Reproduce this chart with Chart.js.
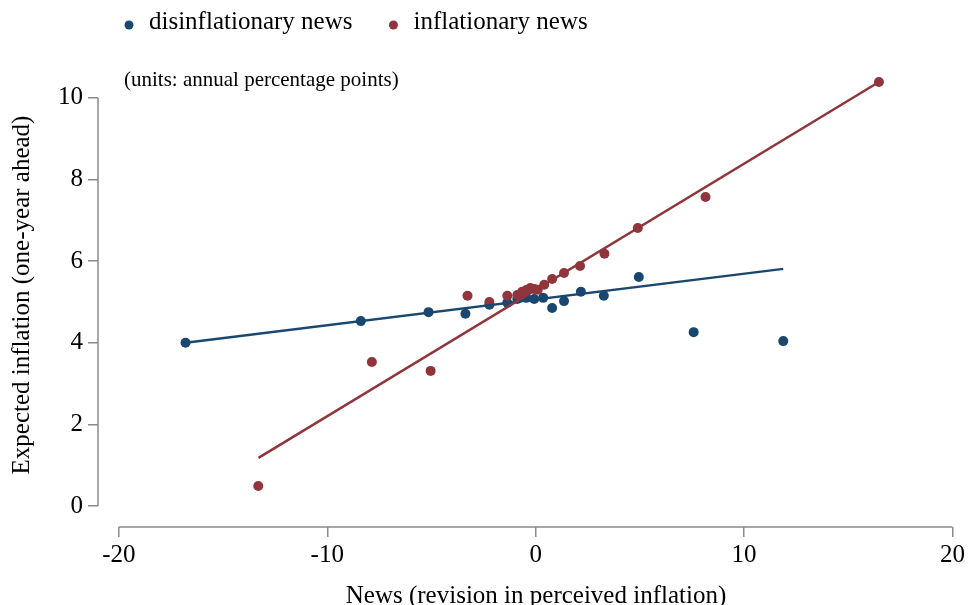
<!DOCTYPE html>
<html>
<head>
<meta charset="utf-8">
<title>Expected inflation and news</title>
<script src="https://cdn.jsdelivr.net/npm/chart.js@4/dist/chart.umd.min.js"></script>
<style>
  body { margin: 0; background: #fff; }
  canvas { display: block; }
</style>
</head>
<body>
<canvas id="chart" width="968" height="605"></canvas>
<script>
// values (news on x, expected inflation on y)
const disinflNews = [-16.8, -8.39, -5.14, -3.37, -2.22, -1.36, -0.88, -0.45, -0.07, 0.36, 0.79, 1.36, 2.17, 3.27, 4.95, 7.58, 11.88];
const disinflExp  = [4.0, 4.53, 4.75, 4.71, 4.93, 4.98, 5.07, 5.1, 5.07, 5.1, 4.85, 5.02, 5.25, 5.15, 5.61, 4.26, 4.04];

const inflNews = [-13.31, -7.86, -5.04, -3.27, -2.22, -1.36, -0.88, -0.65, -0.45, -0.26, -0.07, 0.1, 0.41, 0.79, 1.36, 2.13, 3.3, 4.9, 8.15, 16.47];
const inflExp  = [0.49, 3.53, 3.31, 5.15, 5.0, 5.15, 5.17, 5.25, 5.29, 5.34, 5.32, 5.3, 5.42, 5.56, 5.71, 5.88, 6.18, 6.81, 7.57, 10.39];

// fitted lines (end points)
const disinflFitNews = [-16.8, 11.88];
const disinflFitExp  = [4.0, 5.81];
const inflFitNews = [-13.3, 16.47];
const inflFitExp  = [1.18, 10.39];

const newsTicks = [-20, -10, 0, 10, 20];
const expTicks = [0, 2, 4, 6, 8, 10];

const blue = "#1a476f";
const red = "#90353b";
const axisGray = "#8a8a8a";
const serif = "'Liberation Serif', 'DejaVu Serif', serif";

function toPoints(xs, ys) {
  return xs.map((x, i) => ({ x: x, y: ys[i] }));
}

// axis lines that only span the tick range, plus legend and titles
const extras = {
  id: "extras",
  beforeDatasetsDraw(chart) {
    const { ctx, chartArea, scales } = chart;
    ctx.save();
    ctx.strokeStyle = axisGray;
    ctx.lineWidth = 1.5;
    ctx.beginPath();
    ctx.moveTo(scales.x.getPixelForValue(newsTicks[0]), chartArea.bottom);
    ctx.lineTo(scales.x.getPixelForValue(newsTicks[newsTicks.length - 1]), chartArea.bottom);
    ctx.moveTo(chartArea.left, scales.y.getPixelForValue(expTicks[0]));
    ctx.lineTo(chartArea.left, scales.y.getPixelForValue(expTicks[expTicks.length - 1]));
    ctx.stroke();
    ctx.restore();
  },
  afterDraw(chart) {
    const { ctx } = chart;
    ctx.save();
    ctx.fillStyle = "#000";
    ctx.textBaseline = "middle";

    // legend
    ctx.font = "25px " + serif;
    let x = 129;
    const items = [["disinflationary news", blue], ["inflationary news", red]];
    items.forEach(([label, color]) => {
      ctx.fillStyle = color;
      ctx.beginPath();
      ctx.arc(x, 25, 4.5, 0, Math.PI * 2);
      ctx.fill();
      ctx.fillStyle = "#000";
      ctx.textAlign = "left";
      ctx.fillText(label, x + 20, 22);
      x += 20 + ctx.measureText(label).width + 41;
    });

    // units note
    ctx.font = "21px " + serif;
    ctx.fillText("(units: annual percentage points)", 124, 80);

    // axis titles
    ctx.font = "25px " + serif;
    ctx.textAlign = "center";
    ctx.textBaseline = "top";
    ctx.fillText("News (revision in perceived inflation)", 536, 584);

    ctx.translate(22, 295);
    ctx.rotate(-Math.PI / 2);
    ctx.textBaseline = "middle";
    ctx.fillText("Expected inflation (one-year ahead)", 0, 0);
    ctx.restore();
  }
};

const ctx = document.getElementById("chart").getContext("2d");

new Chart(ctx, {
  type: "scatter",
  data: {
    datasets: [
      {
        label: "inflationary fit",
        type: "line",
        data: toPoints(inflFitNews, inflFitExp),
        borderColor: red,
        borderWidth: 2.5,
        pointRadius: 0,
        fill: false,
        clip: false,
        order: 1
      },
      {
        label: "disinflationary fit",
        type: "line",
        data: toPoints(disinflFitNews, disinflFitExp),
        borderColor: blue,
        borderWidth: 2.5,
        pointRadius: 0,
        fill: false,
        clip: false,
        order: 2
      },
      {
        label: "inflationary news",
        data: toPoints(inflNews, inflExp),
        backgroundColor: red,
        borderColor: red,
        pointRadius: 5,
        pointBorderWidth: 0,
        clip: false,
        order: 3
      },
      {
        label: "disinflationary news",
        data: toPoints(disinflNews, disinflExp),
        backgroundColor: blue,
        borderColor: blue,
        pointRadius: 5,
        pointBorderWidth: 0,
        clip: false,
        order: 4
      }
    ]
  },
  options: {
    responsive: false,
    animation: false,
    devicePixelRatio: 1,
    layout: {
      padding: { top: 73, right: 12, left: 0, bottom: 0 }
    },
    plugins: {
      legend: { display: false },
      tooltip: { enabled: false }
    },
    scales: {
      x: {
        type: "linear",
        min: -21,
        max: 20,
        afterBuildTicks: (scale) => {
          scale.ticks = newsTicks.map(v => ({ value: v }));
        },
        afterFit: (scale) => { scale.height = 78; },
        border: { display: false },
        grid: {
          drawOnChartArea: false,
          drawTicks: true,
          tickLength: 10,
          color: axisGray,
          lineWidth: 1.5
        },
        ticks: {
          color: "#000",
          font: { family: serif, size: 25 },
          padding: 3,
          maxRotation: 0
        }
      },
      y: {
        type: "linear",
        min: -0.515,
        max: 10.61,
        afterBuildTicks: (scale) => {
          scale.ticks = expTicks.map(v => ({ value: v }));
        },
        afterFit: (scale) => { scale.width = 98; },
        border: { display: false },
        grid: {
          drawOnChartArea: false,
          drawTicks: true,
          tickLength: 10,
          color: axisGray,
          lineWidth: 1.5
        },
        ticks: {
          color: "#000",
          font: { family: serif, size: 25 },
          padding: 5
        }
      }
    }
  },
  plugins: [extras]
});
</script>
</body>
</html>
